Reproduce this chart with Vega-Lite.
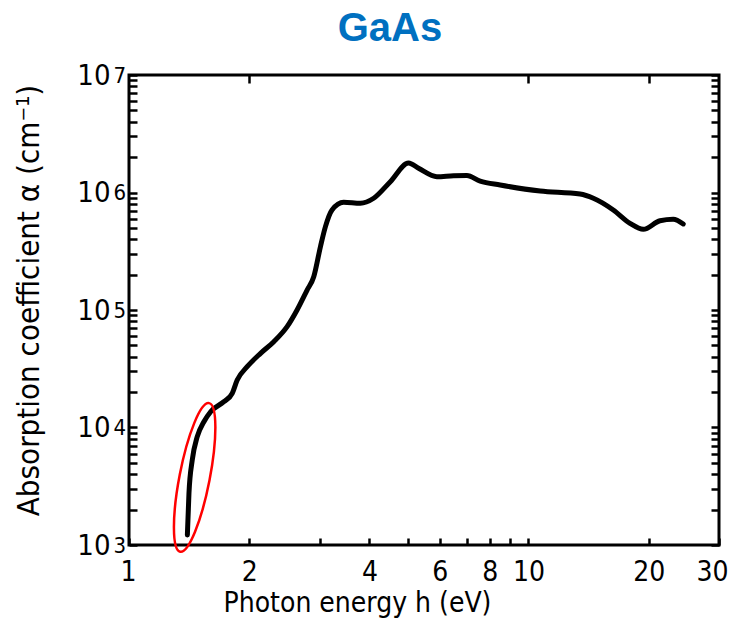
{
  "$schema": "https://vega.github.io/schema/vega-lite/v6.json",
  "width": 590,
  "height": 470,
  "autosize": "none",
  "padding": {"left": 129, "top": 75, "right": 15, "bottom": 75},
  "background": "white",
  "title": {
    "text": "GaAs",
    "font": "Liberation Sans",
    "fontSize": 40,
    "fontWeight": "bold",
    "color": "#0070C0",
    "anchor": "middle",
    "dx": -34,
    "offset": 12
  },
  "datasets": {
    "curve": [
      {"energy": 1.40, "alpha": 1216},
      {"energy": 1.413, "alpha": 2771},
      {"energy": 1.44, "alpha": 5289},
      {"energy": 1.482, "alpha": 8351},
      {"energy": 1.54, "alpha": 11200},
      {"energy": 1.601, "alpha": 13630},
      {"energy": 1.728, "alpha": 16580},
      {"energy": 1.813, "alpha": 19540},
      {"energy": 1.866, "alpha": 25350},
      {"energy": 1.976, "alpha": 32900},
      {"energy": 2.135, "alpha": 42800},
      {"energy": 2.304, "alpha": 53700},
      {"energy": 2.488, "alpha": 72100},
      {"energy": 2.635, "alpha": 100000},
      {"energy": 2.792, "alpha": 147900},
      {"energy": 2.901, "alpha": 192000},
      {"energy": 3.015, "alpha": 345700},
      {"energy": 3.103, "alpha": 512000},
      {"energy": 3.223, "alpha": 710000},
      {"energy": 3.447, "alpha": 826000},
      {"energy": 3.796, "alpha": 809000},
      {"energy": 4.098, "alpha": 893000},
      {"energy": 4.511, "alpha": 1236000},
      {"energy": 5.012, "alpha": 1782000},
      {"energy": 5.309, "alpha": 1607000},
      {"energy": 5.9, "alpha": 1363000},
      {"energy": 6.494, "alpha": 1390000},
      {"energy": 7.013, "alpha": 1396000},
      {"energy": 7.573, "alpha": 1248000},
      {"energy": 8.497, "alpha": 1158000},
      {"energy": 10.7, "alpha": 1030000},
      {"energy": 13.47, "alpha": 970000},
      {"energy": 14.54, "alpha": 893000},
      {"energy": 16.31, "alpha": 710000},
      {"energy": 17.96, "alpha": 547000},
      {"energy": 19.39, "alpha": 486000},
      {"energy": 21.35, "alpha": 575000},
      {"energy": 23.04, "alpha": 592000},
      {"energy": 24.41, "alpha": 540000}
    ],
    "edge": [
      {"energy": 1.46, "alpha": 3760}
    ]
  },
  "config": {
    "view": {"stroke": "black", "strokeWidth": 3},
    "axis": {
      "domain": false,
      "grid": false,
      "tickColor": "black",
      "tickWidth": 2.5,
      "labelColor": "black",
      "titleColor": "black",
      "labelFont": "DejaVu Sans Condensed",
      "titleFont": "DejaVu Sans Condensed",
      "labelOverlap": false,
      "labelFlush": false
    }
  },
  "layer": [
    {
      "data": {"name": "curve"},
      "mark": {"type": "line", "color": "black", "strokeWidth": 5, "interpolate": "monotone", "strokeCap": "round", "strokeJoin": "round"},
      "encoding": {
        "x": {
          "field": "energy",
          "type": "quantitative",
          "scale": {"type": "log", "domain": [1, 30], "nice": false},
          "axis": {
            "orient": "bottom",
            "values": [1, 2, 3, 4, 5, 6, 7, 8, 9, 10, 20, 30],
            "tickSize": -7,
            "labelPadding": 20,
            "labelFontSize": 28,
            "labelFlush": true,
            "labelFlushOffset": 9,
            "labelExpr": "indexof([1, 2, 4, 6, 8, 10, 20, 30], datum.value) >= 0 ? '' + datum.value : ''",
            "title": "Photon energy h  (eV)",
            "titleFontSize": 28,
            "titleFontWeight": "normal",
            "titleX": 228,
            "titleY": 66,
            "titleAlign": "center",
            "titleBaseline": "alphabetic"
          }
        },
        "y": {
          "field": "alpha",
          "type": "quantitative",
          "scale": {"type": "log", "domain": [1000, 10000000], "nice": false},
          "axis": {
            "orient": "left",
            "values": [1000, 2000, 3000, 4000, 5000, 6000, 7000, 8000, 9000, 10000, 20000, 30000, 40000, 50000, 60000, 70000, 80000, 90000, 100000, 200000, 300000, 400000, 500000, 600000, 700000, 800000, 900000, 1000000, 2000000, 3000000, 4000000, 5000000, 6000000, 7000000, 8000000, 9000000, 10000000],
            "tickSize": -8,
            "labelPadding": 27,
            "labelFontSize": 29,
            "labelExpr": "indexof([1000, 10000, 100000, 1000000, 10000000], datum.value) >= 0 ? '10' : ''",
            "title": "Absorption coefficient α (cm⁻¹)",
            "titleFontSize": 31,
            "titleFontWeight": "normal",
            "titleX": -100,
            "titleY": 225,
            "titleAngle": -90,
            "titleAlign": "center",
            "titleBaseline": "middle"
          }
        }
      }
    },
    {
      "data": {"name": "edge"},
      "mark": {
        "type": "point",
        "shape": "M0,-1A0.2,1 0 1,1 0,1A0.2,1 0 1,1 0,-1Z",
        "filled": false,
        "stroke": "#FF0000",
        "strokeWidth": 2.5,
        "size": 22900,
        "angle": 11,
        "opacity": 1
      },
      "encoding": {
        "x": {
          "field": "energy",
          "type": "quantitative",
          "scale": {"type": "log", "domain": [1, 30], "nice": false},
          "axis": {"orient": "top", "values": [2, 10, 20], "tickSize": -8, "labels": false, "title": null}
        },
        "y": {
          "field": "alpha",
          "type": "quantitative",
          "scale": {"type": "log", "domain": [1000, 10000000], "nice": false},
          "axis": {
            "orient": "right",
            "values": [1000, 2000, 3000, 4000, 5000, 6000, 7000, 8000, 9000, 10000, 20000, 30000, 40000, 50000, 60000, 70000, 80000, 90000, 100000, 200000, 300000, 400000, 500000, 600000, 700000, 800000, 900000, 1000000, 2000000, 3000000, 4000000, 5000000, 6000000, 7000000, 8000000, 9000000, 10000000],
            "tickSize": -8,
            "labels": false,
            "title": null
          }
        }
      }
    },
    {
      "data": {"name": "edge"},
      "mark": {"type": "point", "opacity": 0},
      "encoding": {
        "x": {
          "field": "energy",
          "type": "quantitative",
          "scale": {"type": "log", "domain": [1, 30], "nice": false},
          "axis": null
        },
        "y": {
          "field": "alpha",
          "type": "quantitative",
          "scale": {"type": "log", "domain": [1000, 10000000], "nice": false},
          "axis": {
            "orient": "left",
            "values": [1000, 10000, 100000, 1000000, 10000000],
            "ticks": false,
            "labelAlign": "left",
            "labelPadding": 16,
            "labelDy": -12,
            "labelFontSize": 22,
            "labelExpr": "'' + round(log(datum.value) / LN10)",
            "title": null
          }
        }
      }
    }
  ],
  "resolve": {"axis": {"x": "independent", "y": "independent"}}
}
